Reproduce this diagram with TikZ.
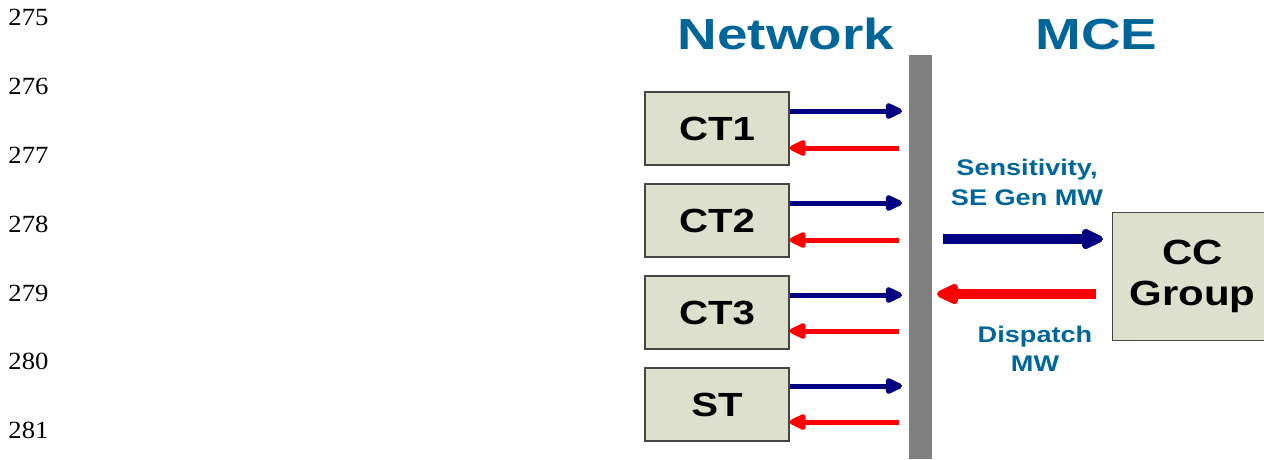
\documentclass[tikz,border=0pt]{standalone}
\usepackage{fontspec}
\newfontfamily\labf[FakeStretch=1.2]{Liberation Sans Bold}
\newfontfamily\titf[FakeStretch=1.26]{Liberation Sans Bold}
\newfontfamily\numf[FakeStretch=1.08]{Liberation Serif}
\usetikzlibrary{arrows.meta}
\definecolor{boxfill}{RGB}{221,224,204}
\definecolor{titleblue}{RGB}{0,102,153}
\definecolor{navyarrow}{RGB}{0,0,128}
\definecolor{bargray}{RGB}{128,128,128}
\definecolor{boxedge}{RGB}{70,70,70}
\tikzset{
  unitbox/.style={draw=boxedge, line width=1.2pt, fill=boxfill, minimum width=144pt,
    minimum height=73pt, inner sep=0pt, font=\labf\fontsize{33.5}{33.5}\selectfont},
  titletext/.style={text=titleblue, inner sep=0pt, font=\titf\fontsize{43.5}{43.5}\selectfont},
  lbltext/.style={text=titleblue, inner sep=0pt, align=center, font=\labf\fontsize{22.6}{29.5}\selectfont},
  numtext/.style={inner sep=0pt, font=\numf\fontsize{24.7}{24.7}\selectfont},
  outarrow/.style={navyarrow, line width=5pt, -{Triangle[round,length=20pt,width=17pt]}},
  inarrow/.style={red, line width=5pt, -{Triangle[round,length=20pt,width=17pt]}},
  bigout/.style={navyarrow, line width=10pt, -{Triangle[round,length=26pt,width=22pt]}},
  bigin/.style={red, line width=10pt, -{Triangle[round,length=26pt,width=22pt]}},
}
\begin{document}
\begin{tikzpicture}[x=1pt,y=-1pt]
\useasboundingbox (0,0) rectangle (1264,459);
% line numbers
\node[numtext, anchor=base west] (n275) at (8.3,25) {275};
\node[numtext, anchor=base west] (n276) at (8.3,94) {276};
\node[numtext, anchor=base west] (n277) at (8.3,163) {277};
\node[numtext, anchor=base west] (n278) at (8.3,232) {278};
\node[numtext, anchor=base west] (n279) at (8.3,301) {279};
\node[numtext, anchor=base west] (n280) at (8.3,369.5) {280};
\node[numtext, anchor=base west] (n281) at (8.3,438) {281};
% titles
\node[titletext, anchor=base] (net) at (786,49.3) {Network};
\node[titletext, anchor=base] (mce) at (1096.5,49.3) {MCE};
% bar
\node[fill=bargray, minimum width=23pt, minimum height=404pt, inner sep=0pt, anchor=north west] (bar) at (909,55) {};
% unit boxes
\node[unitbox] (CT1) at (717,128.5) {CT1};
\node[unitbox] (CT2) at (717,220.5) {CT2};
\node[unitbox] (CT3) at (717,312.5) {CT3};
\node[unitbox] (ST) at (717,404.5) {ST};
% arrow ends near the bar
\coordinate (o1) at (902,111);
\coordinate (i1) at (899,148);
\coordinate (o2) at (902,203);
\coordinate (i2) at (899,240);
\coordinate (o3) at (902,295);
\coordinate (i3) at (899,331);
\coordinate (o4) at (902,386);
\coordinate (i4) at (899,422);
\draw[outarrow] (CT1.east |- o1) -- (o1);
\draw[inarrow] (i1) -- (CT1.east |- i1);
\draw[outarrow] (CT2.east |- o2) -- (o2);
\draw[inarrow] (i2) -- (CT2.east |- i2);
\draw[outarrow] (CT3.east |- o3) -- (o3);
\draw[inarrow] (i3) -- (CT3.east |- i3);
\draw[outarrow] (ST.east |- o4) -- (o4);
\draw[inarrow] (i4) -- (ST.east |- i4);
% CC group
\node[unitbox, minimum width=160pt, minimum height=128pt, align=center,
  font=\labf\fontsize{35}{41}\selectfont, anchor=north west] (CC) at (1112,212) {CC\\Group};
\coordinate (bo) at (943,239);
\coordinate (bi) at (937,294);
\draw[bigout] (bo) -- ([xshift=-9pt]CC.west |- bo);
\draw[bigin] ([xshift=-16pt]CC.west |- bi) -- (bi);
% labels
\node[lbltext] (sens) at (1027,182.3) {Sensitivity,\\SE Gen MW};
\node[lbltext] (disp) at (1035,349) {Dispatch\\MW};
\end{tikzpicture}
\end{document}
